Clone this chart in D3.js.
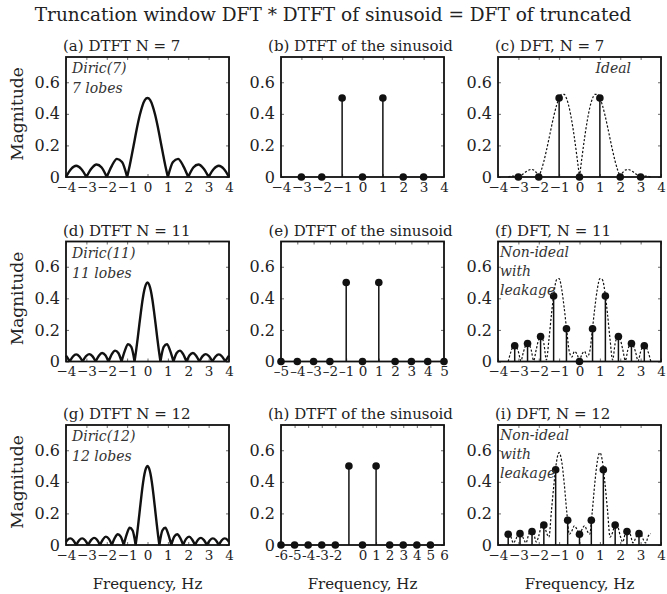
<!DOCTYPE html>
<html>
<head>
<meta charset="utf-8">
<script src="https://cdn.jsdelivr.net/npm/d3@7"></script>
<style>
  body { margin: 0; background: #fff; }
  svg text { font-family: "DejaVu Serif", serif; fill: #222; }
</style>
</head>
<body>
<svg id="chart" width="667" height="594"></svg>
<script>
let mainTitle = "Truncation window DFT * DTFT of sinusoid = DFT of truncated"

// window magnitude (Dirichlet kernel), N = 7
let freqA = [-4,-3.75,-3.5,-3.25,-3,-2.75,-2.5,-2.25,-2,-1.75,-1.5,-1.25,-1,-0.875,-0.75,-0.625,-0.5,-0.375,-0.25,-0.125,0,
             0.125,0.25,0.375,0.5,0.625,0.75,0.875,1,1.25,1.5,1.75,2,2.25,2.5,2.75,3,3.25,3.5,3.75,4]
let magA = [0,0.051,0.071,0.051,0,0.054,0.079,0.060,0,0.071,0.115,0.095,0,0.071,0.153,0.238,0.321,0.394,0.451,0.488,0.5,
            0.488,0.451,0.394,0.321,0.238,0.153,0.071,0,0.095,0.115,0.071,0,0.060,0.079,0.054,0,0.051,0.071,0.051,0]

// N = 11
let freqD = [-4,-3.909,-3.818,-3.659,-3.5,-3.341,-3.182,-3.023,-2.864,-2.705,-2.545,-2.386,-2.227,-2.068,-1.909,-1.75,
             -1.591,-1.432,-1.273,-1.114,-0.955,-0.795,-0.636,-0.557,-0.477,-0.398,-0.318,-0.239,-0.159,-0.08,0,
             0.08,0.159,0.239,0.318,0.398,0.477,0.557,0.636,0.795,0.955,1.114,1.273,1.432,1.591,1.75,1.909,2.068,
             2.227,2.386,2.545,2.705,2.864,3.023,3.182,3.341,3.5,3.659,3.818,3.909,4]
let magD = [0.037,0.020,0,0.032,0.045,0.032,0,0.033,0.047,0.034,0,0.037,0.054,0.040,0,0.046,0.069,0.054,0,0.067,0.109,
            0.092,0,0.070,0.151,0.237,0.319,0.393,0.451,0.487,0.5,
            0.487,0.451,0.393,0.319,0.237,0.151,0.070,0,0.092,0.109,0.067,0,0.054,0.069,0.046,0,0.040,0.054,0.037,0,
            0.034,0.047,0.033,0,0.032,0.045,0.032,0,0.020,0.037]

// N = 12
let freqG = [-4,-3.938,-3.792,-3.646,-3.5,-3.354,-3.208,-3.063,-2.917,-2.771,-2.625,-2.479,-2.333,-2.188,-2.042,-1.896,
             -1.75,-1.604,-1.458,-1.313,-1.167,-1.021,-0.875,-0.729,-0.583,-0.51,-0.438,-0.365,-0.292,-0.219,-0.146,-0.073,0,
             0.073,0.146,0.219,0.292,0.365,0.438,0.51,0.583,0.729,0.875,1.021,1.167,1.313,1.458,1.604,1.75,1.896,
             2.042,2.188,2.333,2.479,2.625,2.771,2.917,3.063,3.208,3.354,3.5,3.646,3.792,3.938,4]
let magG = [0.019,0.030,0.042,0.030,0,0.030,0.042,0.030,0,0.031,0.045,0.033,0,0.035,0.053,0.039,0,0.045,0.068,0.053,0,
            0.067,0.109,0.092,0,0.070,0.151,0.236,0.319,0.393,0.451,0.487,0.5,
            0.487,0.451,0.393,0.319,0.236,0.151,0.070,0,0.092,0.109,0.067,0,0.053,0.068,0.045,0,0.039,0.053,0.035,0,
            0.033,0.045,0.031,0,0.030,0.042,0.030,0,0.030,0.042,0.030,0.019]

// DTFT of the truncated sinusoid (dotted envelopes), common frequency grid
let freqFine = [-3.5,-3.375,-3.25,-3.125,-3,-2.875,-2.75,-2.625,-2.5,-2.375,-2.25,-2.125,-2,-1.875,-1.75,-1.625,-1.5,
                -1.375,-1.25,-1.125,-1,-0.875,-0.75,-0.625,-0.5,-0.375,-0.25,-0.125,0,0.125,0.25,0.375,0.5,0.625,0.75,
                0.875,1,1.125,1.25,1.375,1.5,1.625,1.75,1.875,2,2.125,2.25,2.375,2.5,2.625,2.75,2.875,3,3.125,3.25,3.375,3.5]
let magC = [0,0.004,0.006,0.005,0,0.009,0.021,0.033,0.043,0.048,0.044,0.029,0,0.043,0.099,0.167,0.242,0.319,0.392,0.454,
            0.5,0.524,0.523,0.493,0.436,0.352,0.248,0.128,0,0.128,0.248,0.352,0.436,0.493,0.523,0.524,0.5,0.454,0.392,
            0.319,0.242,0.167,0.099,0.043,0,0.029,0.044,0.048,0.043,0.033,0.021,0.009,0,0.005,0.006,0.004,0]
let magF = [0,0.058,0.094,0.096,0.062,0.003,0.061,0.104,0.111,0.075,0.006,0.075,0.139,0.157,0.114,0.010,0.139,0.300,
            0.437,0.518,0.525,0.459,0.338,0.194,0.062,0.029,0.064,0.047,0,0.047,0.064,0.029,0.062,0.194,0.338,0.459,
            0.525,0.518,0.437,0.300,0.139,0.010,0.114,0.157,0.139,0.075,0.006,0.075,0.111,0.104,0.061,0.003,0.062,
            0.096,0.094,0.058,0]
let magI = [0.072,0.056,0.013,0.036,0.071,0.073,0.041,0.013,0.065,0.091,0.075,0.019,0.057,0.119,0.133,0.08,0.05,0.22,
            0.39,0.53,0.585,0.53,0.39,0.21,0.068,0.089,0.122,0.099,0.068,0.099,0.122,0.089,0.068,0.21,0.39,0.53,0.585,
            0.53,0.39,0.22,0.05,0.08,0.133,0.119,0.057,0.019,0.075,0.091,0.065,0.013,0.041,0.073,0.071,0.036,0.013,
            0.056,0.072]

// DTFT of the sinusoid, one stem per bin
let binsB = [-3,-2,-1,0,1,2,3]
let valsB = [0,0,0.5,0,0.5,0,0]
let binsE = [-5,-4,-3,-2,-1,0,1,2,3,4,5]
let valsE = [0,0,0,0,0.5,0,0.5,0,0,0,0]
let binsH = [-6,-5,-4,-3,-2,-1,0,1,2,3,4,5]
let valsH = [0,0,0,0,0,0.5,0,0.5,0,0,0,0]

// DFT of the truncated sinusoid
let binsC = [-3,-2,-1,0,1,2,3]
let valsC = [0,0,0.5,0,0.5,0,0]
let binsF = [-3.18,-2.55,-1.91,-1.27,-0.64,0,0.64,1.27,1.91,2.55,3.18]
let valsF = [0.100,0.114,0.158,0.415,0.207,0,0.207,0.415,0.158,0.114,0.100]
let binsI = [-3.5,-2.92,-2.33,-1.75,-1.17,-0.58,0,0.58,1.17,1.75,2.33,2.92]
let valsI = [0.068,0.072,0.085,0.126,0.477,0.157,0.068,0.157,0.477,0.126,0.085,0.072]

// tick values
let ticks4 = [-4,-3,-2,-1,0,1,2,3,4]
let ticks5 = [-5,-4,-3,-2,-1,0,1,2,3,4,5]
let ticks6 = [-6,-5,-4,-3,-2,0,1,2,3,4,5,6]
let yTicks = [0,0.2,0.4,0.6]

let notesA = ["Diric(7)", "7 lobes"]
let notesC = ["Ideal"]
let notesD = ["Diric(11)", "11 lobes"]
let notesF = ["Non-ideal", "with", "leakage"]
let notesG = ["Diric(12)", "12 lobes"]
let notesI = ["Non-ideal", "with", "leakage"]

let colLeft = [66, 281, 498]
let rowTop = [57, 241.5, 425]
let boxW = 163
let boxH = 120
let yMax = 0.76

let noteStyles = {
    diric: { dx: 6, dy: 16, step: 20, anchor: "start" },
    ideal: { dx: 133, dy: 16, step: 20, anchor: "end" },
    leak:  { dx: 2, dy: 15, step: 19, anchor: "start" }
}

let enDash = d => d < 0 ? "\u2013" + Math.abs(d) : String(d)
let hyphen = d => d < 0 ? "-" + Math.abs(d) : String(d)

let panels = [
    { title: "(a) DTFT N = 7", align: "start", col: 0, row: 0, xDomain: [-4, 4], xTicks: ticks4,
      curve: [freqA, magA], notes: notesA, noteStyle: "diric" },
    { title: "(b) DTFT of the sinusoid", align: "middle", col: 1, row: 0, xDomain: [-4, 4], xTicks: ticks4,
      stems: [binsB, valsB] },
    { title: "(c) DFT, N = 7", align: "start", col: 2, row: 0, xDomain: [-4, 4], xTicks: ticks4,
      dotted: [freqFine, magC], stems: [binsC, valsC], notes: notesC, noteStyle: "ideal" },
    { title: "(d) DTFT N = 11", align: "start", col: 0, row: 1, xDomain: [-4, 4], xTicks: ticks4,
      curve: [freqD, magD], notes: notesD, noteStyle: "diric" },
    { title: "(e) DTFT of the sinusoid", align: "middle", col: 1, row: 1, xDomain: [-5, 5], xTicks: ticks5,
      xFormat: enDash, stems: [binsE, valsE] },
    { title: "(f) DFT, N = 11", align: "start", col: 2, row: 1, xDomain: [-4, 4], xTicks: ticks4,
      dotted: [freqFine, magF], stems: [binsF, valsF], notes: notesF, noteStyle: "leak" },
    { title: "(g) DTFT N = 12", align: "start", col: 0, row: 2, xDomain: [-4, 4], xTicks: ticks4,
      curve: [freqG, magG], notes: notesG, noteStyle: "diric" },
    { title: "(h) DTFT of the sinusoid", align: "middle", col: 1, row: 2, xDomain: [-6, 6], xTicks: ticks6,
      xFormat: hyphen, stems: [binsH, valsH] },
    { title: "(i) DFT, N = 12", align: "start", col: 2, row: 2, xDomain: [-4, 4], xTicks: ticks4,
      dotted: [freqFine, magI], stems: [binsI, valsI], notes: notesI, noteStyle: "leak" }
]

let svg = d3.select("#chart")

// break a magnitude curve at its zeros so each lobe meets the axis in a sharp cusp
let splitLobes = (xs, ys) => {
    let lobes = []
    let cur = []
    xs.forEach((xv, i) => {
        cur.push([xv, ys[i]])
        if (ys[i] === 0 && cur.length > 1) {
            lobes.push(cur)
            cur = [[xv, ys[i]]]
        }
    })
    if (cur.length > 1) lobes.push(cur)
    return lobes
}

let styleTicks = (sel) => {
    sel.select(".domain").remove()
    sel.selectAll(".tick line").attr("stroke", "#444").attr("stroke-width", 0.8)
}

let drawPanel = (p) => {
    let left = colLeft[p.col]
    let top = rowTop[p.row]
    let right = left + boxW
    let bottom = top + boxH

    let x = d3.scaleLinear().domain(p.xDomain).range([left, right])
    let y = d3.scaleLinear().domain([0, yMax]).range([bottom, top])

    let g = svg.append("g")

    g.append("text")
     .attr("x", p.align === "middle" ? (left + right) / 2 - 2 : left - 3)
     .attr("y", top - 6)
     .attr("text-anchor", p.align)
     .attr("font-size", 15)
     .text(p.title)

    // axes with short inward ticks on every side
    let xAxis = d3.axisBottom(x).tickValues(p.xTicks).tickSize(-3).tickSizeOuter(0).tickPadding(5)
    if (p.xFormat) xAxis.tickFormat(p.xFormat)
    g.append("g")
     .attr("transform", "translate(0," + bottom + ")")
     .call(xAxis)
     .call(styleTicks)
     .attr("font-size", 13.5)

    g.append("g")
     .attr("transform", "translate(0," + top + ")")
     .call(d3.axisTop(x).tickValues(p.xTicks).tickFormat(() => "").tickSize(-3).tickSizeOuter(0))
     .call(styleTicks)

    g.append("g")
     .attr("transform", "translate(" + left + ",0)")
     .call(d3.axisLeft(y).tickValues(yTicks).tickFormat(d3.format("~g")).tickSize(-3).tickSizeOuter(0).tickPadding(6))
     .call(styleTicks)
     .attr("font-size", 16)

    g.append("g")
     .attr("transform", "translate(" + right + ",0)")
     .call(d3.axisRight(y).tickValues(yTicks).tickFormat(() => "").tickSize(-3).tickSizeOuter(0))
     .call(styleTicks)

    g.append("rect")
     .attr("x", left)
     .attr("y", top)
     .attr("width", boxW)
     .attr("height", boxH)
     .attr("fill", "none")
     .attr("stroke", "#111")
     .attr("stroke-width", 1.8)

    let line = d3.line()
                 .x(d => x(d[0]))
                 .y(d => y(d[1]))
                 .curve(d3.curveMonotoneX)
    let pathOf = (xs, ys) => splitLobes(xs, ys).map(l => line(l)).join("")

    if (p.curve) {
        g.append("path")
         .attr("d", pathOf(p.curve[0], p.curve[1]))
         .attr("fill", "none")
         .attr("stroke", "#111")
         .attr("stroke-width", 2.4)
         .attr("stroke-linejoin", "round")
    }

    if (p.dotted) {
        g.append("path")
         .attr("d", pathOf(p.dotted[0], p.dotted[1]))
         .attr("fill", "none")
         .attr("stroke", "#111")
         .attr("stroke-width", 1.2)
         .attr("stroke-dasharray", "2.2,1.8")
    }

    if (p.stems) {
        let pts = p.stems[0].map((f, i) => [f, p.stems[1][i]])
        g.selectAll(".stem")
         .data(pts)
         .enter()
         .append("line")
         .attr("class", "stem")
         .attr("x1", d => x(d[0]))
         .attr("x2", d => x(d[0]))
         .attr("y1", y(0))
         .attr("y2", d => y(d[1]))
         .attr("stroke", "#111")
         .attr("stroke-width", 1.5)
        g.selectAll(".dot")
         .data(pts)
         .enter()
         .append("circle")
         .attr("class", "dot")
         .attr("cx", d => x(d[0]))
         .attr("cy", d => y(d[1]))
         .attr("r", 3.8)
         .attr("fill", "#111")
    }

    if (p.notes) {
        let s = noteStyles[p.noteStyle]
        g.selectAll(".note")
         .data(p.notes)
         .enter()
         .append("text")
         .attr("class", "note")
         .attr("x", left + s.dx)
         .attr("y", (d, i) => top + s.dy + i * s.step)
         .attr("text-anchor", s.anchor)
         .attr("font-size", 14)
         .attr("font-style", "italic")
         .style("fill", "#333")
         .text(d => d)
    }

    if (p.col === 0) {
        g.append("text")
         .attr("transform", "translate(23," + (top + boxH / 2 - 3) + ") rotate(-90)")
         .attr("text-anchor", "middle")
         .attr("font-size", 17)
         .text("Magnitude")
    }

    if (p.row === 2) {
        g.append("text")
         .attr("x", (left + right) / 2)
         .attr("y", 589)
         .attr("text-anchor", "middle")
         .attr("font-size", 15)
         .text("Frequency, Hz")
    }
}

svg.append("text")
   .attr("x", 333)
   .attr("y", 21)
   .attr("text-anchor", "middle")
   .attr("font-size", 18.5)
   .text(mainTitle)

panels.forEach(drawPanel)
</script>
</body>
</html>
